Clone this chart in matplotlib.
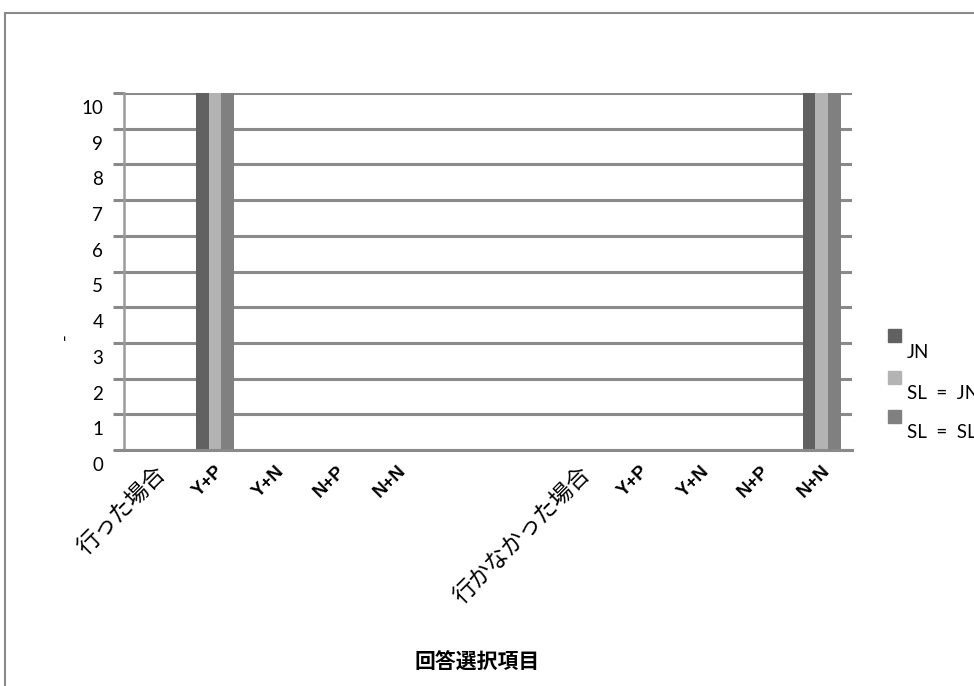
import matplotlib.pyplot as plt
import matplotlib.transforms as mtransforms
from matplotlib.patches import Rectangle
import numpy as np

plt.rcParams['font.family'] = ['Lato', 'Noto Sans CJK JP', 'DejaVu Sans']

categories = ['行った場合', 'Y+P', 'Y+N', 'N+P', 'N+N', '', '',
              '行かなかった場合', 'Y+P', 'Y+N', 'N+P', 'N+N']
series_names = ['JN', 'SL  =  JN', 'SL  =  SL']
jn = [0, 10, 0, 0, 0, 0, 0, 0, 0, 0, 0, 10]
sl_jn = [0, 10, 0, 0, 0, 0, 0, 0, 0, 0, 0, 10]
sl_sl = [0, 10, 0, 0, 0, 0, 0, 0, 0, 0, 0, 10]
colors = ['#616161', '#b3b3b3', '#808080']
grid_c = '#8a8a8a'

W, H = 974, 686
fig = plt.figure(figsize=(W / 100, H / 100), dpi=100)
ax = fig.add_axes([124 / W, 1 - 450 / H, (852 - 124) / W, (450 - 93) / H])

x = np.arange(len(categories))
bw = 0.21
for i, (vals, c) in enumerate(zip([jn, sl_jn, sl_sl], colors)):
    ax.bar(x + (i - 1) * bw, vals, width=bw, color=c, zorder=2)

ax.set_xlim(-0.5, len(categories) - 0.5)
ax.set_ylim(0, 10)
ax.set_yticks(range(0, 11))
ax.yaxis.grid(True, color=grid_c, lw=2.2)
ax.set_axisbelow(True)

for s in ['top', 'right']:
    ax.spines[s].set_visible(False)
ax.spines['left'].set_color('#9a9a9a')
ax.spines['left'].set_linewidth(1.8)
ax.spines['bottom'].set_color(grid_c)
ax.spines['bottom'].set_linewidth(2.2)

ax.tick_params(axis='y', length=8, width=2.2, color=grid_c, pad=7, labelsize=13.5)
ax.tick_params(axis='x', length=0, pad=9)

# y labels sit between the gridlines
shift = mtransforms.ScaledTranslation(0, -0.14, fig.dpi_scale_trans)
for lab in ax.get_yticklabels():
    lab.set_transform(lab.get_transform() + shift)

ax.set_xticks(x)
ax.set_xticklabels(categories, rotation=45, ha='right', va='top', rotation_mode='anchor')
for lab in ax.get_xticklabels():
    if lab.get_text().isascii():
        lab.set_fontweight('bold')
        lab.set_fontsize(13.5)
        lab.set_family(['Liberation Sans'])
    else:
        lab.set_fontsize(16.5)

fig.text(65 / W, 1 - 337 / H, '-', rotation=90, ha='center', va='center', fontsize=13)
fig.text(477 / W, 1 - 663 / H, '回答選択項目', ha='center', va='center',
         fontsize=15, fontweight='bold')

# legend
for k, (name, c) in enumerate(zip(series_names, colors)):
    top = [329, 371, 410][k]
    fig.add_artist(Rectangle((888 / W, 1 - (top + 13) / H), 13 / W, 13 / H,
                             transform=fig.transFigure, color=c))
    fig.text(907 / W, 1 - (top + 23) / H, name, ha='left', va='center', fontsize=13.5)

# chart frame
fig.add_artist(Rectangle((5 / W, -0.1), 1.2, 1.1 - 12.7 / H, transform=fig.transFigure,
                         fill=False, edgecolor='#8a8a8a', lw=1.5))

fig.savefig('out.png', dpi=100)
